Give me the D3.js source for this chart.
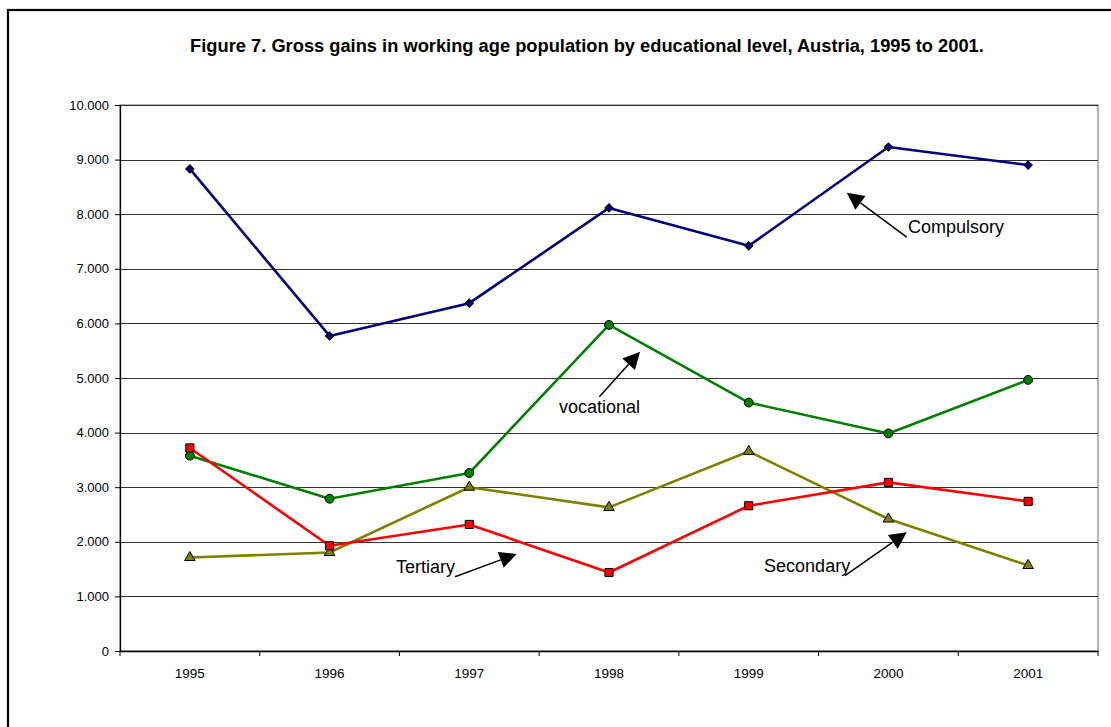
<!DOCTYPE html>
<html>
<head>
<meta charset="utf-8">
<script src="https://cdn.jsdelivr.net/npm/d3@7/dist/d3.min.js"></script>
<style>
  html, body { margin: 0; padding: 0; background: #fff; }
  svg { display: block; font-family: Arial, "Liberation Sans", sans-serif; }
</style>
</head>
<body>
<svg id="chart" width="1111" height="727"></svg>
<script>
// Categories and series (gross gains per year)
const years = ["1995", "1996", "1997", "1998", "1999", "2000", "2001"];
const compulsory = [8830, 5770, 6370, 8115, 7420, 9230, 8900];
const vocational = [3578, 2789, 3260, 5972, 4550, 3985, 4965];
const secondary  = [1712, 1804, 3000, 2630, 3655, 2417, 1566];
const tertiary   = [3719, 1927, 2318, 1437, 2660, 3088, 2740];
const yTicks = [0, 1000, 2000, 3000, 4000, 5000, 6000, 7000, 8000, 9000, 10000];

const titleText = "Figure 7. Gross gains in working age population by educational level, Austria, 1995 to 2001.";

// Callout labels: positions in (year index, value) space
const annotations = [
  { text: "Compulsory", tx: 5.140, ty: 7656, tail: [5.131, 7582], tip: [4.702, 8394] },
  { text: "vocational", tx: 2.642, ty: 4353, tail: [2.931, 4658], tip: [3.222, 5482] },
  { text: "Tertiary",   tx: 1.475, ty: 1434, tail: [1.898, 1361], tip: [2.339, 1777] },
  { text: "Secondary",  tx: 4.110, ty: 1441, tail: [4.689, 1379], tip: [5.131, 2174] }
];

const series = [
  { name: "Compulsory", values: compulsory, color: "#000080", marker: "diamond" },
  { name: "Vocational", values: vocational, color: "#008000", marker: "circle" },
  { name: "Secondary",  values: secondary,  color: "#808000", marker: "triangle" },
  { name: "Tertiary",   values: tertiary,   color: "#FF0000", marker: "square" }
];

const svg = d3.select("#chart");
const plot = { left: 120, right: 1098, top: 105, bottom: 651 };

// Outer frame
svg.append("rect")
  .attr("x", 8).attr("y", 10).attr("width", 1110).attr("height", 730)
  .attr("fill", "#fff").attr("stroke", "#000").attr("stroke-width", 2.2);

// Title
svg.append("text")
  .attr("x", 587).attr("y", 52)
  .attr("text-anchor", "middle")
  .attr("font-weight", "bold")
  .attr("font-size", 18.3)
  .text(titleText);

const x = d3.scaleBand().domain(years).range([plot.left, plot.right]).padding(0);
const bw = x.bandwidth();
const xi = d3.scaleLinear().domain([0, years.length - 1])
  .range([x(years[0]) + bw / 2, x(years[years.length - 1]) + bw / 2]);
const y = d3.scaleLinear().domain([0, 10000]).range([plot.bottom, plot.top]);

const locale = d3.formatLocale({ decimal: ",", thousands: ".", grouping: [3], currency: ["", ""] });
const fmt = locale.format(",");

// Plot area border
svg.append("rect")
  .attr("x", plot.left).attr("y", plot.top)
  .attr("width", plot.right - plot.left).attr("height", plot.bottom - plot.top)
  .attr("fill", "none").attr("stroke", "#808080").attr("stroke-width", 1.2);

// Gridlines
svg.append("g").selectAll("line")
  .data(yTicks.filter(d => d > 0))
  .join("line")
  .attr("x1", plot.left).attr("x2", plot.right)
  .attr("y1", d => Math.round(y(d)) + 0.5).attr("y2", d => Math.round(y(d)) + 0.5)
  .attr("stroke", "#333").attr("stroke-width", 1.2);

// Y axis
const yAxis = svg.append("g")
  .attr("transform", `translate(${plot.left},0)`)
  .call(d3.axisLeft(y).tickValues(yTicks).tickFormat(fmt).tickSize(5).tickPadding(6).tickSizeOuter(0));
yAxis.select(".domain").attr("stroke", "#000").attr("stroke-width", 1.3);
yAxis.selectAll(".tick line").attr("stroke", "#000");
yAxis.selectAll("text").attr("font-size", 13).attr("fill", "#000")
  .attr("font-family", "Arial, 'Liberation Sans', sans-serif");

// X axis with ticks at category boundaries
const xAxis = svg.append("g")
  .attr("transform", `translate(0,${plot.bottom})`)
  .call(d3.axisBottom(x).tickSize(0).tickPadding(17));
xAxis.select(".domain").attr("stroke", "#000").attr("stroke-width", 1.4);
xAxis.selectAll("text").attr("font-size", 13.5).attr("fill", "#000")
  .attr("font-family", "Arial, 'Liberation Sans', sans-serif");
xAxis.selectAll("line.boundary")
  .data(years.map(d => x(d)).concat([x(years[years.length - 1]) + bw]))
  .join("line")
  .attr("class", "boundary")
  .attr("x1", d => d).attr("x2", d => d)
  .attr("y1", 0).attr("y2", 5)
  .attr("stroke", "#000").attr("stroke-width", 1);

// Lines
const line = d3.line().x((d, i) => xi(i)).y(d => y(d));
const gSeries = svg.append("g");
series.forEach(s => {
  gSeries.append("path")
    .datum(s.values)
    .attr("d", line)
    .attr("fill", "none")
    .attr("stroke", s.color)
    .attr("stroke-width", 2.6)
    .attr("stroke-linejoin", "round");
});

// Markers (diamond = square turned 45 degrees)
const symbolType = { diamond: d3.symbolSquare, circle: d3.symbolCircle, triangle: d3.symbolTriangle, square: d3.symbolSquare };
const symbolSize = { diamond: 34, circle: 62, triangle: 48, square: 66 };
const symbolRot = { diamond: 45, circle: 0, triangle: 0, square: 0 };
series.forEach(s => {
  gSeries.append("g").selectAll("path")
    .data(s.values)
    .join("path")
    .attr("transform", (d, i) => `translate(${xi(i)},${y(d)}) rotate(${symbolRot[s.marker]})`)
    .attr("d", d3.symbol().type(symbolType[s.marker]).size(symbolSize[s.marker]))
    .attr("fill", s.color)
    .attr("stroke", "#000")
    .attr("stroke-width", 1);
});

// Callouts with arrows
const gAnn = svg.append("g");
annotations.forEach(a => {
  const x0 = xi(a.tail[0]), y0 = y(a.tail[1]);
  const x1 = xi(a.tip[0]),  y1 = y(a.tip[1]);
  const ang = Math.atan2(y1 - y0, x1 - x0);
  const hl = 17, hw = 8.5;
  const bx = x1 - hl * Math.cos(ang), by = y1 - hl * Math.sin(ang);
  gAnn.append("line")
    .attr("x1", x0).attr("y1", y0).attr("x2", bx).attr("y2", by)
    .attr("stroke", "#000").attr("stroke-width", 1.5);
  const px = -Math.sin(ang), py = Math.cos(ang);
  gAnn.append("path")
    .attr("d", `M${x1},${y1}L${bx + px * hw},${by + py * hw}L${bx - px * hw},${by - py * hw}Z`)
    .attr("fill", "#000");
  gAnn.append("text")
    .attr("x", xi(a.tx)).attr("y", y(a.ty))
    .attr("font-size", 18)
    .attr("fill", "#000")
    .text(a.text);
});
</script>
</body>
</html>
